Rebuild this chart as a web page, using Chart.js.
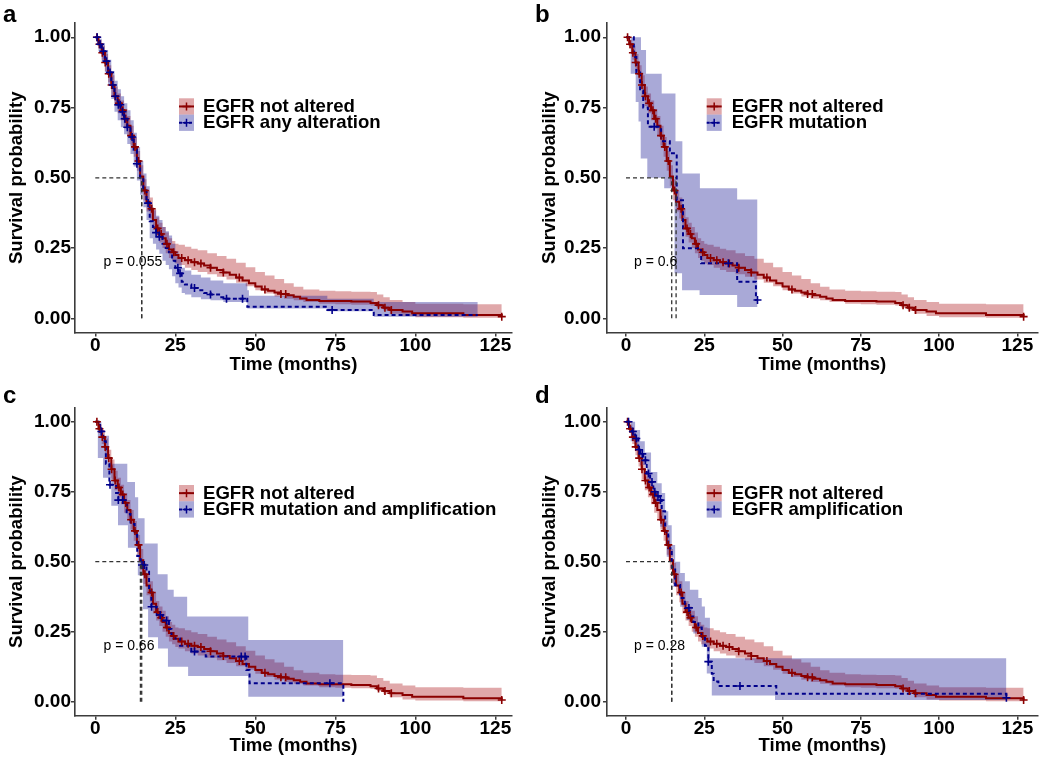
<!DOCTYPE html>
<html><head><meta charset="utf-8">
<script src="https://cdn.jsdelivr.net/npm/chart.js@4.4.1/dist/chart.umd.min.js"></script>
<style>
html,body{margin:0;padding:0;background:#fff;}
#wrap{position:relative;width:1049px;height:761px;overflow:hidden;}
canvas{position:absolute;}
</style></head><body><div id="wrap">
<canvas id="pa" style="left:0px;top:0px" width="520" height="380"></canvas>
<canvas id="pb" style="left:520px;top:0px" width="529" height="380"></canvas>
<canvas id="pc" style="left:0px;top:380px" width="520" height="381"></canvas>
<canvas id="pd" style="left:520px;top:380px" width="529" height="381"></canvas>
</div>
<script>
// ---------- DATA ----------
const xTicks = [0, 25, 50, 75, 100, 125];
const yTicks = [0, 0.25, 0.5, 0.75, 1.0];

// EGFR not altered (same curve in all panels)
const notAlteredTime = [0,1,2,3,4,5,6,7,8,9,10,11,12,13,14,15,16,17,18,19,20,21,22,23,24,25,26,28,30,32,34,36,38,40,42,44,46,48,50,52,54,56,58,60,62,64,66,70,80,86,88,90,92,96,99,115,127];
const notAlteredSurv = [1.0,0.975,0.945,0.91,0.87,0.83,0.79,0.765,0.74,0.71,0.685,0.65,0.61,0.56,0.505,0.455,0.415,0.39,0.35,0.32,0.30,0.285,0.265,0.245,0.235,0.225,0.215,0.207,0.2,0.195,0.188,0.18,0.172,0.163,0.155,0.145,0.135,0.125,0.113,0.103,0.098,0.092,0.087,0.082,0.077,0.071,0.065,0.062,0.06,0.055,0.047,0.038,0.03,0.024,0.018,0.012,0.006];
const notAlteredCiTime = [0,1,2,3,4,5,6,7,8,9,10,11,12,13,14,15,16,17,18,19,20,21,22,23,24,25,26,28,30,32,35,38,41,44,47,50,53,56,59,62,65,70,75,80,86,88,90,92,96,100,115,127];
const notAlteredUpper = [1.0,0.99,0.97,0.94,0.90,0.865,0.825,0.80,0.775,0.745,0.72,0.685,0.645,0.595,0.545,0.495,0.455,0.43,0.39,0.36,0.34,0.325,0.305,0.285,0.275,0.265,0.262,0.255,0.248,0.242,0.232,0.222,0.212,0.198,0.182,0.165,0.152,0.14,0.125,0.112,0.103,0.098,0.096,0.095,0.094,0.085,0.075,0.065,0.058,0.052,0.05,0.05];
const notAlteredLower = [1.0,0.96,0.92,0.88,0.84,0.795,0.755,0.73,0.705,0.675,0.65,0.615,0.575,0.525,0.47,0.42,0.38,0.355,0.315,0.29,0.27,0.25,0.232,0.215,0.205,0.195,0.19,0.18,0.172,0.165,0.157,0.148,0.138,0.127,0.114,0.1,0.088,0.078,0.07,0.064,0.058,0.052,0.05,0.048,0.046,0.038,0.028,0.016,0.008,0.004,0.002,0.002];
const notAlteredCensor = [0.5,1.3,2.2,3.1,4.2,5.1,6.2,7.4,8.6,9.5,11.2,12.4,13.5,15.5,17.6,19.5,20.6,22.4,24.5,27,29,31,33,36,40,45,53,58,59.5,88.5,90.5,92.5,127];

// a: EGFR any alteration
const anyAltTime = [0,1,2,3,4,5,6,7,8,9,10,11,12,13,14,15,16,17,18,19,20,21,22,23,24,25,26,27,28,30,32,34,36,39,41,47.5,72.5,87,119.5];
const anyAltSurv = [1.0,0.975,0.95,0.915,0.875,0.83,0.79,0.76,0.735,0.71,0.68,0.645,0.6,0.55,0.5,0.455,0.41,0.345,0.325,0.305,0.29,0.265,0.25,0.235,0.205,0.18,0.16,0.13,0.12,0.108,0.1,0.09,0.085,0.075,0.07,0.041,0.03,0.012,0.012];
const anyAltCiTime = [0,1,2,3,4,5,6,7,8,9,10,11,12,13,14,15,16,17,18,19,20,21,22,23,24,25,26,27,28,30,33,36,40,47.5,48,72.5,87,119.5];
const anyAltUpper = [1.0,0.995,0.98,0.955,0.92,0.88,0.845,0.815,0.79,0.765,0.74,0.705,0.66,0.61,0.56,0.515,0.47,0.405,0.385,0.365,0.35,0.325,0.31,0.295,0.265,0.24,0.215,0.18,0.17,0.155,0.145,0.135,0.125,0.1,0.08,0.07,0.058,0.058];
const anyAltLower = [1.0,0.95,0.915,0.875,0.83,0.78,0.735,0.705,0.68,0.655,0.62,0.585,0.54,0.49,0.44,0.395,0.35,0.285,0.265,0.245,0.23,0.205,0.19,0.175,0.15,0.125,0.11,0.09,0.085,0.075,0.068,0.064,0.058,0.035,0.035,0.025,0.006,0.006];
const anyAltCensor = [0.6,1.5,2.5,3.5,4.6,5.5,6.3,7.2,7.8,8.5,9.2,10,11.5,13,16.5,19,20,25.8,26.5,31,36,41,46,74];

// b: EGFR mutation
const mutTime = [0,2.5,3.3,4.5,5.5,7.0,11.2,14.0,16.2,18.2,24.0,35.5,41.5,42];
const mutSurv = [1.0,0.93,0.875,0.81,0.75,0.682,0.63,0.587,0.42,0.249,0.196,0.13,0.065,0.065];
const mutUpperTime = [0,4.8,6.4,11.4,15.8,18.0,23.6,35.5,42];
const mutUpper = [1.0,0.955,0.87,0.80,0.63,0.515,0.463,0.423,0.423];
const mutLowerTime = [0,1.5,3.1,4.0,4.7,6.8,12.2,15.5,17.9,23.5,35.5,42];
const mutLower = [1.0,0.87,0.77,0.70,0.569,0.50,0.463,0.16,0.10,0.083,0.04,0.01];
const mutCensor = [9.0,32.7,42];

// c: EGFR mutation and amplification
const mutAmpTime = [0,1.5,2.5,3.3,4.4,6.5,7.2,9.8,11.0,12.3,13.1,14.2,16.0,16.8,17.5,19.2,21.0,23.0,23.8,26.5,30.0,34.5,47.2,48.2,77.5];
const mutAmpSurv = [1.0,0.965,0.93,0.85,0.775,0.745,0.72,0.67,0.635,0.595,0.52,0.488,0.464,0.40,0.339,0.31,0.29,0.26,0.226,0.2,0.179,0.161,0.113,0.066,0.0];
const mutAmpUpperTime = [0,1.9,4.3,10,12.4,13.4,15.4,19.5,22.6,24.5,28.7,47.8,77.5];
const mutAmpUpper = [1.0,0.95,0.85,0.785,0.73,0.655,0.565,0.455,0.40,0.375,0.304,0.22,0.22];
const mutAmpLowerTime = [0,0.8,2.4,5.0,7.1,10.2,13.3,14.9,16.5,19.6,22.7,29.0,47.8,77.5];
const mutAmpLower = [1.0,0.87,0.80,0.70,0.63,0.55,0.452,0.33,0.23,0.19,0.125,0.092,0.018,0.018];
const mutAmpCensor = [1.9,4.6,7.2,8.6,14.6,15.3,17.6,20.3,22.3,31,45.6,46.8,73.3];

// d: EGFR amplification
const ampTime = [0,1,1.8,2.9,3.9,4.5,5.5,6.6,7.7,8.7,9.5,10.5,11.4,12.5,13.5,14.6,15.7,17.3,18.8,20.4,21.5,23.1,24.2,25.2,26.3,27.4,28.0,29.5,48.0,121.5];
const ampSurv = [1.0,0.98,0.965,0.94,0.9,0.885,0.862,0.815,0.785,0.75,0.735,0.72,0.68,0.607,0.548,0.48,0.417,0.37,0.335,0.304,0.285,0.265,0.232,0.2,0.143,0.1,0.072,0.056,0.028,0.014];
const ampUpperTime = [0,2.9,4.5,6.0,8.0,10.0,11.4,12.5,13.5,14.6,15.7,17.3,18.8,20.4,23.1,24.2,25.2,26.8,121.5];
const ampUpper = [1.0,0.97,0.93,0.89,0.82,0.78,0.745,0.68,0.63,0.56,0.50,0.46,0.43,0.40,0.37,0.34,0.30,0.155,0.155];
const ampLowerTime = [0,1.5,2.9,4.5,6.6,8.7,10.9,13.0,15.1,17.3,19.4,21.5,24.2,25.8,27.4,47.6,121.5];
const ampLower = [1.0,0.93,0.9,0.845,0.768,0.708,0.625,0.518,0.41,0.339,0.292,0.244,0.196,0.101,0.022,0.006,0.006];
const ampCensor = [0.8,2.2,3.3,4.2,5.2,6.2,7.2,8.3,9.2,10.2,11,20.1,26.3,36.4,121.5];

const panelLetters = ['a','b','c','d'];
const groupLabels = [
  ['EGFR not altered','EGFR any alteration'],
  ['EGFR not altered','EGFR mutation'],
  ['EGFR not altered','EGFR mutation and amplification'],
  ['EGFR not altered','EGFR amplification']
];
const pValues = ['p = 0.055','p = 0.6','p = 0.66','p = 0.28'];
const pValuePos = [2.55, 0.2];
const medians = [[14.5,14.5],[14.6,16.0],[14.1,14.5],[14.6,14.6]];
const medianLevel = 0.5;

// ---------- STYLE ----------
const FONT = "'Liberation Sans', Arial, Helvetica, sans-serif";
const RED = '#8B0000', BLUE = '#00008B';
const RED_BAND = 'rgba(170,20,25,0.37)', BLUE_BAND = 'rgba(30,30,150,0.38)';
const AXIS = '#3c3c3c';
Chart.defaults.font.family = FONT;
Chart.defaults.color = '#000';

function pts(t, v){ return t.map((x,i)=>({x:x, y:v[i]})); }
function survAt(t, v, x){ let s = v[0]; for (let i=0;i<t.length;i++){ if (t[i] <= x) s = v[i]; } return s; }
function censorPts(t, v, c){ return c.map(x=>({x:x, y:survAt(t, v, x)})); }

const annot = {
  id: 'annot',
  afterDraw(chart, args, o) {
    const ctx = chart.ctx, xs = chart.scales.x, ys = chart.scales.y;
    ctx.save();
    ctx.font = '14px ' + FONT; ctx.fillStyle = '#000';
    ctx.textAlign = 'left'; ctx.textBaseline = 'middle';
    ctx.fillText(o.pText, xs.getPixelForValue(pValuePos[0]), ys.getPixelForValue(pValuePos[1]));
    ctx.font = 'bold 24px ' + FONT; ctx.textBaseline = 'alphabetic';
    ctx.fillText(o.letter, o.letterX, o.letterY);
    const kw = 15, kh = 16.3;
    const cols = [[RED, RED_BAND, []],[BLUE, BLUE_BAND, [3,2]]];
    for (let i=0;i<2;i++){
      const y0 = o.legY + i*kh, cy = y0 + kh/2, cx = o.legX + kw/2;
      ctx.fillStyle = cols[i][1]; ctx.fillRect(o.legX, y0, kw, kh);
      ctx.strokeStyle = cols[i][0]; ctx.lineWidth = 2; ctx.setLineDash(cols[i][2]);
      ctx.beginPath(); ctx.moveTo(o.legX, cy); ctx.lineTo(o.legX+kw, cy); ctx.stroke();
      ctx.setLineDash([]); ctx.lineWidth = 1.5;
      ctx.beginPath(); ctx.moveTo(cx-4, cy); ctx.lineTo(cx+4, cy); ctx.moveTo(cx, cy-4); ctx.lineTo(cx, cy+4); ctx.stroke();
      ctx.fillStyle = '#000'; ctx.font = 'bold 18.6px ' + FONT; ctx.textBaseline = 'middle';
      ctx.fillText(o.labels[i], o.textX, cy + 0.5);
    }
    ctx.restore();
  }
};

const blueSets = [
  {t:anyAltTime, s:anyAltSurv, ut:anyAltCiTime, u:anyAltUpper, lt:anyAltCiTime, l:anyAltLower, c:anyAltCensor},
  {t:mutTime, s:mutSurv, ut:mutUpperTime, u:mutUpper, lt:mutLowerTime, l:mutLower, c:mutCensor},
  {t:mutAmpTime, s:mutAmpSurv, ut:mutAmpUpperTime, u:mutAmpUpper, lt:mutAmpLowerTime, l:mutAmpLower, c:mutAmpCensor},
  {t:ampTime, s:ampSurv, ut:ampUpperTime, u:ampUpper, lt:ampLowerTime, l:ampLower, c:ampCensor}
];

const geoms = [
  {id:'pa', w:520, h:380, padTop:23.2, padRight:8, yW:75, xH:47.6, xMin:-6.34, xMax:130.2, yTitlePad:5.9, xTitlePad:4.2, tickPadY:0, letterX:3, letterY:22, legX:179, legY:98.3, textX:203},
  {id:'pb', w:529, h:380, padTop:23.2, padRight:11.3, yW:87, xH:47.6, xMin:-6.07, xMax:131.5, yTitlePad:18.4, xTitlePad:4.2, tickPadY:2, letterX:15, letterY:22, legX:186.7, legY:98.3, textX:211.7},
  {id:'pc', w:520, h:381, padTop:27.7, padRight:8, yW:75, xH:45.3, xMin:-6.34, xMax:130.2, yTitlePad:5.9, xTitlePad:3.5, tickPadY:0, letterX:3, letterY:23, legX:179, legY:105, textX:203},
  {id:'pd', w:529, h:381, padTop:27.7, padRight:11.3, yW:87, xH:45.3, xMin:-6.07, xMax:131.5, yTitlePad:18.4, xTitlePad:3.5, tickPadY:2, letterX:15, letterY:23, legX:186.7, legY:105, textX:211.7}
];

function band(data, color, fill, order){
  return {data:data, stepped:true, borderWidth:0, borderColor:'transparent', pointRadius:0, fill:fill, backgroundColor:color, order:order};
}

geoms.forEach((g, k) => {
  const b = blueSets[k];
  const med = medians[k];
  const maxMed = Math.max.apply(null, med);
  const datasets = [
    band(pts(notAlteredCiTime, notAlteredUpper), RED_BAND, '+1', 30),
    band(pts(notAlteredCiTime, notAlteredLower), RED_BAND, false, 30),
    band(pts(b.ut, b.u), BLUE_BAND, '+1', 29),
    band(pts(b.lt, b.l), BLUE_BAND, false, 29),
    {data:pts(notAlteredTime, notAlteredSurv), stepped:true, borderColor:RED, borderWidth:2, pointRadius:0, fill:false, order:10},
    {data:pts(b.t, b.s), stepped:true, borderColor:BLUE, borderWidth:2, borderDash:[4,3], pointRadius:0, fill:false, order:9},
    {data:censorPts(notAlteredTime, notAlteredSurv, notAlteredCensor), showLine:false, pointStyle:'cross', pointRadius:4, borderColor:RED, pointBorderWidth:1.6, order:6},
    {data:censorPts(b.t, b.s, b.c), showLine:false, pointStyle:'cross', pointRadius:4, borderColor:BLUE, pointBorderWidth:1.6, order:5},
    {data:[{x:0,y:medianLevel},{x:maxMed,y:medianLevel}], borderColor:'#333', borderWidth:1.3, borderDash:[4,3], pointRadius:0, fill:false, order:1}
  ];
  med.forEach(m => datasets.push({data:[{x:m,y:0},{x:m,y:medianLevel}], borderColor:'#333', borderWidth:1.3, borderDash:[4,3], pointRadius:0, fill:false, order:1}));

  new Chart(document.getElementById(g.id), {
    type:'line',
    data:{datasets:datasets},
    options:{
      responsive:false, animation:false, events:[],
      layout:{padding:{top:g.padTop, right:g.padRight, bottom:0, left:0}},
      plugins:{
        legend:{display:false}, tooltip:{enabled:false},
        annot:{pText:pValues[k], letter:panelLetters[k], letterX:g.letterX, letterY:g.letterY, legX:g.legX, legY:g.legY, textX:g.textX, labels:groupLabels[k]}
      },
      scales:{
        x:{type:'linear', min:g.xMin, max:g.xMax,
           afterBuildTicks:(s)=>{ s.ticks = xTicks.map(v=>({value:v})); },
           afterFit:(s)=>{ s.height = g.xH; },
           ticks:{font:{size:19, weight:'bold', lineHeight:1.0}, color:'#000', padding:0, maxRotation:0, autoSkip:false, callback:(v)=>String(v)},
           grid:{drawOnChartArea:false, drawTicks:true, tickLength:4, color:AXIS, lineWidth:1.5},
           border:{display:true, color:AXIS, width:1.6},
           title:{display:true, text:'Time (months)', color:'#000', font:{size:18.6, weight:'bold', lineHeight:1.2}, padding:{top:0, bottom:g.xTitlePad}}
        },
        y:{type:'linear', min:-0.05, max:1.05,
           afterBuildTicks:(s)=>{ s.ticks = yTicks.map(v=>({value:v})); },
           afterFit:(s)=>{ s.width = g.yW; },
           ticks:{font:{size:19, weight:'bold', lineHeight:1.0}, color:'#000', padding:g.tickPadY, autoSkip:false, callback:(v)=>Number(v).toFixed(2)},
           grid:{drawOnChartArea:false, drawTicks:true, tickLength:4, color:AXIS, lineWidth:1.5},
           border:{display:true, color:AXIS, width:1.6},
           title:{display:true, text:'Survival probability', color:'#000', font:{size:18.6, weight:'bold', lineHeight:1.2}, padding:{top:g.yTitlePad, bottom:0}}
        }
      }
    },
    plugins:[annot]
  });
});
</script>
</body></html>
